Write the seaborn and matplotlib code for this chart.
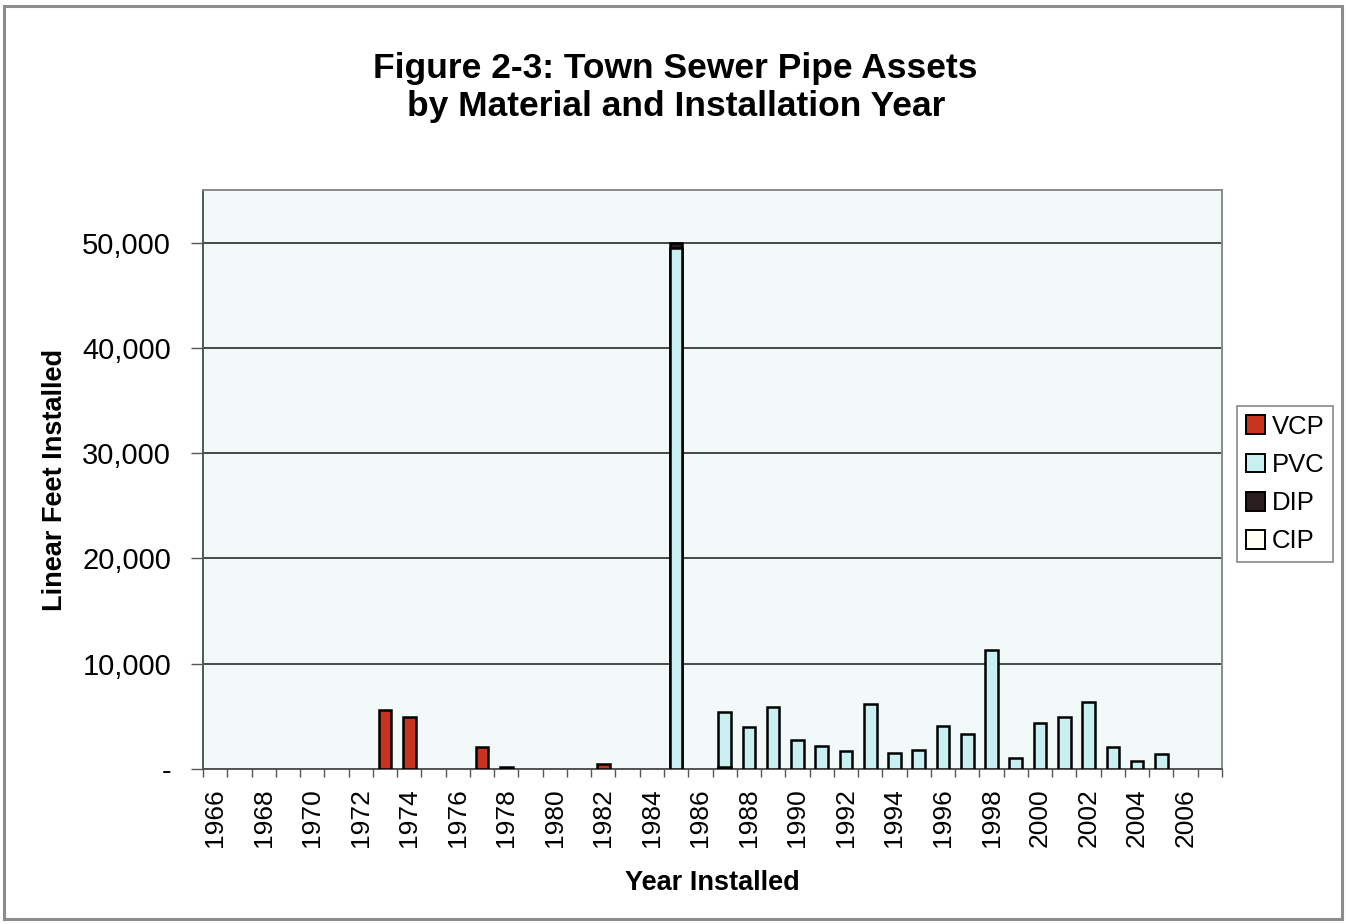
import numpy as np
import pandas as pd
import matplotlib
matplotlib.use("Agg")
import matplotlib.pyplot as plt
from matplotlib.patches import Patch, Rectangle
from matplotlib.ticker import FuncFormatter
import seaborn as sns

# Installation years shown on the axis
years = list(range(1966, 2008))

# Linear feet installed per material, keyed by year
vcp = {1973: 5600, 1974: 4900, 1977: 2100, 1982: 520, 1987: 200}
pvc = {1985: 49500, 1987: 5250, 1988: 4000, 1989: 5900, 1990: 2800,
       1991: 2200, 1992: 1750, 1993: 6150, 1994: 1500, 1995: 1800,
       1996: 4050, 1997: 3300, 1998: 11350, 1999: 1050, 2000: 4400,
       2001: 4950, 2002: 6400, 2003: 2100, 2004: 800, 2005: 1400}
dip = {1978: 150, 1985: 500}
cip = {}

materials = ["VCP", "PVC", "DIP", "CIP"]
colors = ["#C8331F", "#C9F0F0", "#2A1D1D", "#FFFFF4"]

sns.set_theme(style="white")
plt.rcParams["font.family"] = ["Liberation Sans", "DejaVu Sans"]
plt.rcParams["text.color"] = "black"
plt.rcParams["axes.labelcolor"] = "black"

table = pd.DataFrame({"year": years})
for name, values in zip(materials, [vcp, pvc, dip, cip]):
    table[name] = [values.get(y, 0) for y in years]
table["year"] = table["year"].astype(str)
cum = table[materials].cumsum(axis=1)

fig = plt.figure(figsize=(13.46, 9.24), dpi=100)
fig.patch.set_facecolor("white")
ax = fig.add_axes([203 / 1346, 1 - 769 / 924, 1019 / 1346, 579 / 924])
ax.set_facecolor("#F1FAF9")

order = [str(y) for y in years]
# Stacked bars: draw cumulative totals from the top segment down
for i in range(len(materials) - 1, -1, -1):
    name = materials[i]
    layer = pd.DataFrame({"year": table["year"], "total": cum.iloc[:, i]})
    layer = layer[table[name] > 0]
    if layer.empty:
        continue
    sns.barplot(data=layer, x="year", y="total", order=order, ax=ax,
                color=colors[i], saturation=1, width=0.52,
                edgecolor="black", linewidth=1.8, errorbar=None, zorder=3)

ax.set_ylim(0, 55000)
ax.set_xlim(-0.5, len(years) - 0.5)
ax.set_yticks(np.arange(0, 50001, 10000))
ax.yaxis.set_major_formatter(FuncFormatter(lambda v, p: "-" if v == 0 else f"{int(v):,}"))
ax.grid(axis="y", color="#3A3A3A", linewidth=1.3, zorder=1)
ax.set_axisbelow(True)

ax.set_xticks(range(0, len(years), 2))
ax.set_xticklabels([str(y) for y in years[::2]], rotation=90)
ax.set_xticks(np.arange(-0.5, len(years), 1), minor=True)
ax.tick_params(axis="x", which="major", length=0, labelsize=19, pad=14,
               labelcolor="black")
ax.tick_params(axis="x", which="minor", length=6, width=1, color="#555",
               direction="out", bottom=True)
ax.tick_params(axis="y", which="major", length=9, width=1, color="#555",
               direction="out", left=True, labelsize=21, pad=14,
               labelcolor="black")

for side, sp in ax.spines.items():
    sp.set_color("#8A8A8A")
    sp.set_linewidth(1.4)
ax.spines["bottom"].set_color("#555")
ax.spines["left"].set_color("#555")

ax.set_xlabel("Year Installed", fontsize=19.5, fontweight="bold")
ax.set_ylabel("Linear Feet Installed", fontsize=19.5, fontweight="bold")
ax.xaxis.set_label_coords(0.5, -0.175)
ax.yaxis.set_label_coords(-0.132, 0.5)

fig.text(0.502, 0.905, "Figure 2-3: Town Sewer Pipe Assets\nby Material and Installation Year",
         ha="center", va="center", fontsize=25.5, fontweight="bold", linespacing=1.2)

handles = [Patch(facecolor=c, edgecolor="black", linewidth=1.4, label=m)
           for m, c in zip(materials, colors)]
leg = fig.legend(handles=handles, loc="center left",
                 bbox_to_anchor=(1237 / 1346, 1 - 484 / 924), fontsize=18.5,
                 frameon=True, fancybox=False, edgecolor="#777",
                 handlelength=0.75, handleheight=0.75, handletextpad=0.25,
                 labelspacing=0.55, borderpad=0.35, borderaxespad=0)
leg.get_frame().set_linewidth(1.3)

fig.patches.append(Rectangle((4 / 1346, 5 / 924), 1338 / 1346, 913 / 924,
                             transform=fig.transFigure, fill=False,
                             edgecolor="#8C8C8C", linewidth=2.2))

fig.savefig("out.png", dpi=100)
